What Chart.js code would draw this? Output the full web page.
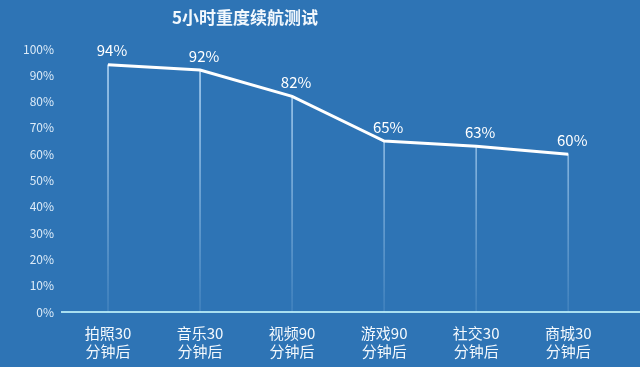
<!DOCTYPE html>
<html><head><meta charset="utf-8">
<script src="https://cdn.jsdelivr.net/npm/chart.js@4/dist/chart.umd.min.js"></script>
<style>
html,body{margin:0;padding:0;background:#2e74b5;}
#wrap{position:relative;width:640px;height:367px;}
#title{position:absolute;left:0;width:490px;top:5px;text-align:center;font:bold 17px "Noto Sans CJK SC",sans-serif;color:#f2f8fd;line-height:24px;}
</style></head>
<body>
<div id="wrap"><canvas id="c" width="640" height="367"></canvas><div id="title">5小时重度续航测试</div></div>
<script>
const categories = [["拍照30","分钟后"],["音乐30","分钟后"],["视频90","分钟后"],["游戏90","分钟后"],["社交30","分钟后"],["商城30","分钟后"]];
const values = [94, 92, 82, 65, 63, 60];
const yTicks = [0,10,20,30,40,50,60,70,80,90,100];

const pts = values.map((v,i)=>({x:i,y:v}));
const FONT = '"Noto Sans CJK SC", sans-serif';

const labelPlugin = {
  id:'vlabels',
  afterDatasetsDraw(chart){
    const meta = chart.getDatasetMeta(0);
    const ctx = chart.ctx;
    ctx.save();
    ctx.font = '15px ' + FONT;
    ctx.fillStyle = '#ffffff';
    ctx.textAlign = 'center';
    ctx.textBaseline = 'middle';
    meta.data.forEach((p,i)=>{
      ctx.fillText(values[i] + '%', p.x + 4, p.y - 14);
    });
    ctx.restore();
  }
};

new Chart(document.getElementById('c'), {
  data: {
    datasets: [
      { type:'line', data: pts, borderColor:'#ffffff', borderWidth:3, pointRadius:0, tension:0, order:0 },
      { type:'bar', data: pts, barThickness:1, order:1,
        backgroundColor: (ctx)=>{
          const ca = ctx.chart.chartArea;
          if(!ca) return 'rgba(190,225,255,0.6)';
          const g = ctx.chart.ctx.createLinearGradient(0, ca.top, 0, ca.bottom);
          g.addColorStop(0,'rgba(200,230,255,0.85)');
          g.addColorStop(1,'rgba(200,230,255,0.12)');
          return g;
        } }
    ]
  },
  options: {
    responsive:false, animation:false,
    layout:{ padding:{ top:49, right:0, left:0, bottom:0 } },
    plugins:{ legend:{display:false}, tooltip:{enabled:false} },
    scales:{
      x:{
        type:'linear', min:-0.5, max:5.78, offset:false,
        afterFit(s){ s.height = 55; },
        afterBuildTicks(s){ s.ticks = categories.map((_,i)=>({value:i})); },
        ticks:{ callback:(v)=>categories[v], color:'#f4f9fd', font:{family:FONT,size:15,lineHeight:1.2}, padding:4, maxRotation:0, autoSkip:false },
        grid:{ display:false, offset:false },
        border:{ display:true, color:'#a9dff0', width:2 }
      },
      y:{
        min:0, max:100,
        afterFit(s){ s.width = 62; },
        afterBuildTicks(s){ s.ticks = yTicks.map(v=>({value:v})); },
        ticks:{ callback:(v)=>v+'%', color:'#dcebf8', font:{family:FONT,size:12}, padding:8 },
        grid:{ display:false, drawTicks:false },
        border:{ display:false }
      }
    }
  },
  plugins:[labelPlugin]
});
</script>
</body></html>
